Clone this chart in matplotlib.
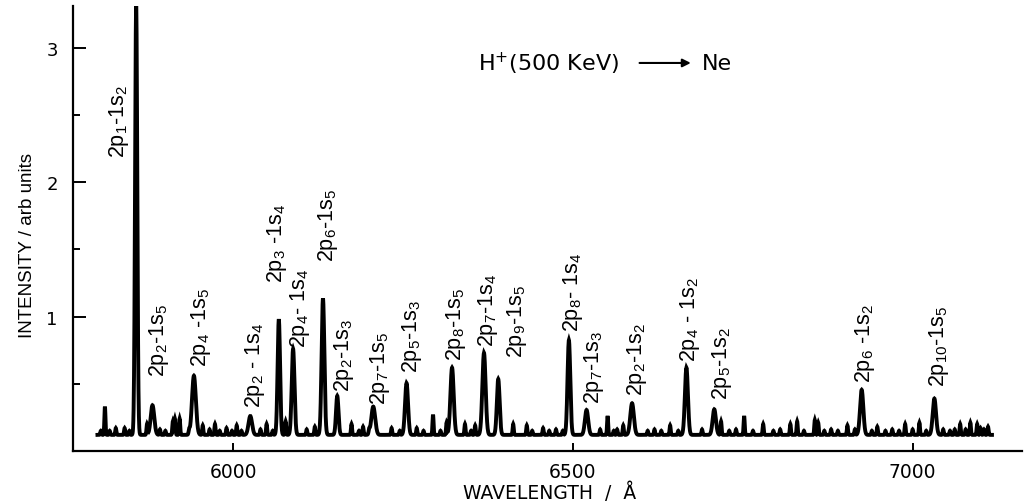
import matplotlib.pyplot as plt
import numpy as np

plt.rcParams['mathtext.default'] = 'regular'
plt.rcParams['font.family'] = ['DejaVu Sans']
NARROW = ['Liberation Sans Narrow', 'Liberation Sans', 'DejaVu Sans']

# labelled Ne I lines: wavelength, peak intensity (arb. units)
line_labels = [r'2p$_1$-1s$_2$', r'2p$_2$-1s$_5$', r'2p$_4$ -1s$_5$', r'2p$_2$ - 1s$_4$',
               r'2p$_3$ -1s$_4$', r'2p$_4$- 1s$_4$', r'2p$_6$-1s$_5$', r'2p$_2$-1s$_3$',
               r'2p$_7$-1s$_5$', r'2p$_5$-1s$_3$', r'2p$_8$-1s$_5$', r'2p$_7$-1s$_4$',
               r'2p$_9$-1s$_5$', r'2p$_8$- 1s$_4$', r'2p$_7$-1s$_3$', r'2p$_2$-1s$_2$',
               r'2p$_4$ - 1s$_2$', r'2p$_5$-1s$_2$', r'2p$_6$ -1s$_2$', r'2p$_{10}$-1s$_5$']
line_wavelength = [5857, 5881, 5942, 6025, 6067, 6088, 6132, 6153, 6206, 6255,
                   6322, 6369, 6390, 6494, 6520, 6587, 6667, 6708, 6925, 7032]
line_intensity = [3.32, 0.34, 0.56, 0.26, 0.98, 0.76, 1.135, 0.41, 0.33, 0.505,
                  0.62, 0.73, 0.535, 0.825, 0.305, 0.355, 0.62, 0.31, 0.455, 0.39]
line_width = [1.6, 2.6, 2.8, 2.6, 1.8, 2.0, 2.0, 1.8, 2.8, 2.2,
              2.4, 2.4, 2.0, 2.0, 2.4, 2.6, 2.2, 2.4, 2.4, 2.4]

# where each rotated label sits: centre wavelength, bottom intensity
label_wavelength = [5831, 5890, 5952, 6032, 6064, 6098, 6139, 6163, 6216, 6263,
                    6328, 6375, 6418, 6500, 6531, 6594, 6672, 6719, 6930, 7039]
label_bottom = [2.19, 0.56, 0.63, 0.33, 1.26, 0.77, 1.41, 0.45, 0.35, 0.59,
                0.68, 0.78, 0.70, 0.89, 0.36, 0.42, 0.67, 0.39, 0.51, 0.48]

# unlabelled features and noise spikes on the baseline
spike_wavelength = [5805, 5811, 5818, 5827, 5840, 5847, 5873, 5892, 5900, 5911,
                    5914, 5921, 5935, 5955, 5965, 5973, 5980, 5990, 5998, 6005,
                    6012, 6040, 6049, 6058, 6077, 6108, 6120, 6174, 6185, 6191,
                    6200, 6233, 6245, 6270, 6280, 6294, 6305, 6314, 6341, 6350,
                    6356, 6412, 6432, 6440, 6456, 6465, 6475, 6485, 6540, 6551,
                    6560, 6565, 6574, 6610, 6620, 6630, 6643, 6655, 6690, 6718,
                    6730, 6740, 6752, 6765, 6780, 6795, 6805, 6820, 6830, 6840,
                    6856, 6861, 6870, 6880, 6890, 6904, 6915, 6940, 6948, 6960,
                    6970, 6980, 6989, 7000, 7010, 7020, 7045, 7055, 7062, 7070,
                    7078, 7085, 7095, 7100, 7105, 7111]
spike_intensity = [0.15, 0.33, 0.15, 0.17, 0.17, 0.15, 0.20, 0.16, 0.15, 0.22,
                   0.24, 0.24, 0.15, 0.19, 0.16, 0.20, 0.15, 0.17, 0.15, 0.19,
                   0.15, 0.16, 0.20, 0.15, 0.22, 0.16, 0.18, 0.20, 0.15, 0.18,
                   0.15, 0.17, 0.15, 0.17, 0.15, 0.27, 0.15, 0.21, 0.20, 0.15,
                   0.19, 0.20, 0.19, 0.15, 0.17, 0.15, 0.16, 0.15, 0.16, 0.26,
                   0.15, 0.16, 0.19, 0.15, 0.16, 0.15, 0.19, 0.15, 0.16, 0.22,
                   0.15, 0.16, 0.26, 0.15, 0.20, 0.15, 0.16, 0.20, 0.22, 0.15,
                   0.23, 0.21, 0.15, 0.16, 0.15, 0.19, 0.16, 0.15, 0.18, 0.15,
                   0.16, 0.15, 0.20, 0.16, 0.21, 0.15, 0.16, 0.15, 0.16, 0.20,
                   0.16, 0.21, 0.20, 0.17, 0.16, 0.18]

baseline = 0.12
scan_start, scan_end = 5800, 7117

wl = np.arange(scan_start, scan_end, 0.2)
spectrum = np.full_like(wl, baseline)
for c, h, s in zip(line_wavelength, line_intensity, line_width):
    spectrum += (h - baseline) * np.exp(-0.5 * ((wl - c) / s) ** 2)
for c, h in zip(spike_wavelength, spike_intensity):
    spectrum += (h - baseline) * np.exp(-0.5 * ((wl - c) / 0.8) ** 2)

fig = plt.figure(figsize=(10.25, 5.02), dpi=100)
ax = fig.add_axes([73 / 1025, 1 - 452 / 502, 949 / 1025, 445 / 502])

ax.plot(wl, spectrum, color='black', lw=2.8, solid_joinstyle='miter')

for lab, x, y in zip(line_labels, label_wavelength, label_bottom):
    ax.text(x, y, lab, rotation=90, ha='center', va='bottom',
            fontsize=15.5, family=NARROW)

ax.set_xlim(5764, 7161)
ax.set_ylim(0, 3.31)

for side in ['top', 'right']:
    ax.spines[side].set_visible(False)
for side in ['left', 'bottom']:
    ax.spines[side].set_linewidth(1.6)

ax.set_xticks([6000, 6500, 7000])
ax.set_yticks([1, 2, 3])
ax.set_yticks([0.5, 1.5, 2.5], minor=True)
ax.tick_params(axis='y', which='major', direction='in', length=9, width=1.4,
               labelsize=13, pad=11)
ax.tick_params(axis='y', which='minor', direction='in', length=5, width=1.4)
ax.tick_params(axis='x', which='major', direction='in', length=6, width=1.4,
               labelsize=13.5, pad=8)

ax.set_xlabel('WAVELENGTH  /  Å', fontsize=13.5, va='center')
ax.xaxis.set_label_coords(0.502, -0.091)
ax.set_ylabel('INTENSITY / arb units', fontsize=13.5, family=NARROW, va='center')
ax.yaxis.set_label_coords(-0.048, 0.465)

ax.text(0.4268, 0.872, 'H$^{+}$(500 KeV)', transform=ax.transAxes,
        fontsize=16, ha='left', va='center')
ax.annotate('', xy=(0.651, 0.872), xytext=(0.597, 0.872), xycoords='axes fraction',
            arrowprops=dict(arrowstyle='-|>', color='black', lw=1.5,
                            mutation_scale=12, shrinkA=0, shrinkB=0))
ax.text(0.6628, 0.872, 'Ne', transform=ax.transAxes,
        fontsize=16, ha='left', va='center')

fig.savefig('out.png', dpi=100)
